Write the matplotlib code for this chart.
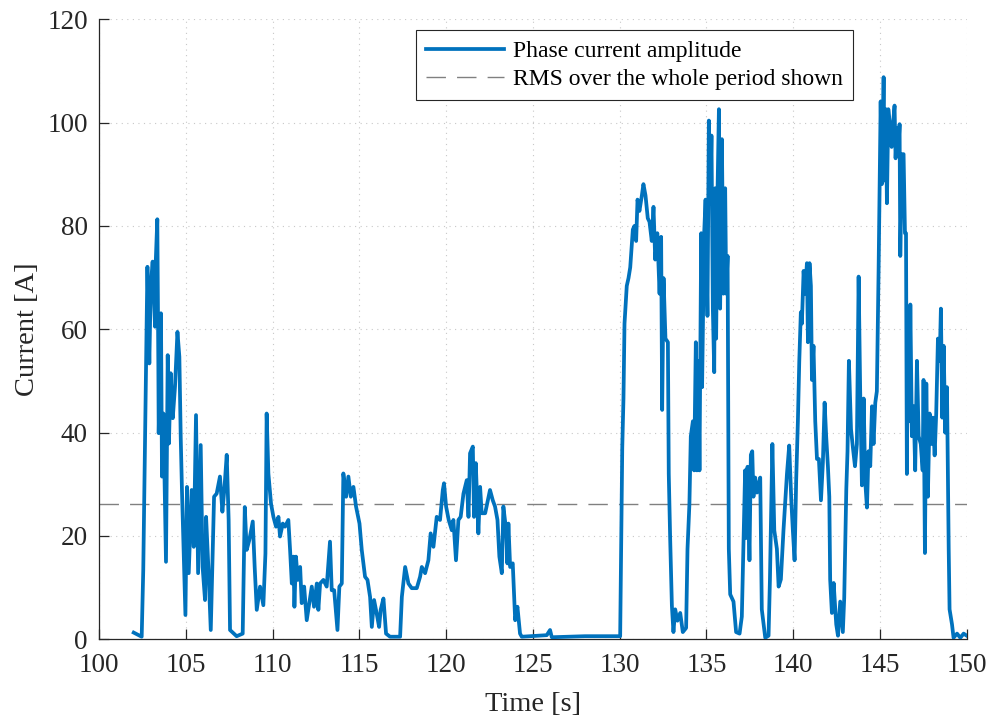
import matplotlib
matplotlib.use("Agg")
import matplotlib.pyplot as plt

# ---- data ----
time_s = [
    102.00, 102.46, 102.55, 102.65, 102.79, 102.90, 102.98, 103.09, 103.23, 103.27,
    103.36, 103.42, 103.44, 103.57, 103.63, 103.71, 103.86, 103.96, 104.03, 104.13,
    104.25, 104.38, 104.52, 104.63, 104.71, 104.78, 104.98, 105.07, 105.17, 105.34,
    105.46, 105.59, 105.71, 105.86, 105.97, 106.11, 106.17, 106.30, 106.44, 106.53,
    106.63, 106.78, 106.97, 107.11, 107.22, 107.36, 107.47, 107.55, 107.93, 108.28,
    108.40, 108.51, 108.66, 108.86, 108.97, 109.09, 109.28, 109.47, 109.59, 109.66,
    109.76, 109.91, 110.05, 110.20, 110.34, 110.43, 110.59, 110.72, 110.91, 111.01,
    111.11, 111.20, 111.26, 111.35, 111.45, 111.59, 111.68, 111.82, 111.97, 112.12,
    112.26, 112.39, 112.55, 112.64, 112.74, 112.93, 113.12, 113.22, 113.31, 113.41,
    113.55, 113.74, 113.85, 113.99, 114.08, 114.24, 114.37, 114.51, 114.66, 114.81,
    115.01, 115.14, 115.33, 115.47, 115.62, 115.72, 115.85, 116.00, 116.14, 116.23,
    116.39, 116.54, 116.77, 117.35, 117.45, 117.64, 117.83, 118.02, 118.31, 118.50,
    118.60, 118.79, 118.98, 119.11, 119.27, 119.46, 119.65, 119.81, 119.88, 120.00,
    120.15, 120.33, 120.42, 120.57, 120.71, 120.84, 121.00, 121.19, 121.29, 121.38,
    121.54, 121.61, 121.71, 121.86, 121.96, 122.05, 122.25, 122.53, 122.69, 122.82,
    122.96, 123.07, 123.21, 123.30, 123.46, 123.53, 123.59, 123.69, 123.84, 123.98,
    124.11, 124.26, 124.36, 125.80, 125.99, 126.09, 128.00, 130.03, 130.10, 130.15,
    130.22, 130.28, 130.41, 130.51, 130.61, 130.76, 130.85, 130.95, 131.03, 131.14,
    131.28, 131.37, 131.49, 131.62, 131.72, 131.85, 131.95, 132.05, 132.17, 132.30,
    132.39, 132.45, 132.53, 132.64, 132.78, 132.83, 132.91, 133.01, 133.10, 133.20,
    133.33, 133.49, 133.64, 133.83, 133.91, 134.02, 134.10, 134.22, 134.29, 134.39,
    134.45, 134.54, 134.60, 134.70, 134.75, 134.87, 134.95, 135.06, 135.14, 135.22,
    135.29, 135.37, 135.45, 135.50, 135.56, 135.64, 135.72, 135.79, 135.89, 135.98,
    136.08, 136.14, 136.22, 136.29, 136.37, 136.56, 136.71, 136.91, 137.04, 137.14,
    137.23, 137.29, 137.37, 137.48, 137.56, 137.64, 137.71, 137.81, 137.91, 138.10,
    138.19, 138.39, 138.58, 138.66, 138.80, 138.91, 139.06, 139.16, 139.29, 139.44,
    139.64, 139.77, 139.89, 139.98, 140.08, 140.17, 140.27, 140.35, 140.44, 140.50,
    140.60, 140.69, 140.79, 140.85, 140.94, 141.02, 141.08, 141.17, 141.27, 141.37,
    141.48, 141.60, 141.71, 141.81, 141.90, 142.00, 142.08, 142.13, 142.23, 142.33,
    142.48, 142.58, 142.71, 142.86, 142.94, 143.06, 143.13, 143.21, 143.33, 143.44,
    143.56, 143.67, 143.77, 143.86, 143.96, 144.06, 144.15, 144.25, 144.34, 144.44,
    144.54, 144.63, 144.73, 144.82, 144.92, 144.98, 145.04, 145.11, 145.21, 145.27,
    145.34, 145.40, 145.48, 145.59, 145.67, 145.75, 145.84, 145.90, 145.98, 146.05,
    146.13, 146.17, 146.27, 146.36, 146.44, 146.50, 146.55, 146.61, 146.69, 146.75,
    146.84, 146.94, 147.03, 147.13, 147.23, 147.35, 147.46, 147.51, 147.59, 147.67,
    147.76, 147.86, 147.96, 148.05, 148.15, 148.24, 148.34, 148.44, 148.51, 148.59,
    148.67, 148.76, 148.86, 148.96, 149.01, 149.15, 149.24, 149.44, 149.63, 149.82,
    150.00,
]
current_a = [
    1.3, 0.5, 13.4, 37.9, 72.1, 53.4, 68.2, 73.1, 60.5, 73.1,
    81.3, 52.8, 39.9, 63.1, 31.5, 43.7, 15.0, 55.0, 37.9, 51.5,
    42.8, 48.9, 59.5, 54.7, 38.9, 28.9, 4.7, 29.5, 12.8, 28.9,
    17.9, 43.4, 12.8, 37.6, 14.0, 7.6, 23.7, 14.0, 1.8, 14.0,
    27.6, 28.2, 31.5, 24.7, 28.9, 35.7, 23.1, 1.8, 0.6, 1.1,
    25.6, 17.3, 19.2, 22.8, 14.0, 5.7, 10.2, 6.6, 16.6, 43.7,
    32.1, 26.3, 23.7, 21.8, 23.7, 19.9, 22.4, 21.8, 23.1, 17.3,
    10.8, 16.0, 6.3, 16.0, 11.5, 14.0, 7.0, 10.2, 3.7, 7.0,
    10.2, 6.3, 10.8, 5.7, 10.8, 11.5, 10.2, 14.7, 18.9, 9.5,
    9.5, 1.8, 10.2, 10.8, 32.1, 27.6, 31.5, 27.6, 29.5, 25.7,
    22.4, 17.3, 12.1, 11.5, 8.2, 2.4, 7.6, 5.0, 2.4, 5.7,
    7.9, 1.1, 0.5, 0.5, 8.2, 14.0, 10.8, 9.9, 9.9, 12.1,
    14.0, 12.8, 15.3, 20.5, 17.9, 23.7, 23.1, 28.9, 30.2, 25.7,
    23.1, 21.1, 23.1, 15.3, 23.1, 23.7, 28.2, 30.8, 23.7, 36.0,
    37.3, 23.7, 34.1, 20.5, 29.5, 24.4, 24.4, 28.9, 26.9, 25.7,
    23.1, 16.0, 12.8, 25.7, 21.1, 14.7, 22.4, 14.0, 14.7, 3.7,
    6.3, 1.1, 0.5, 0.8, 1.8, 0.4, 0.6, 0.6, 23.0, 37.0,
    46.6, 61.1, 68.4, 69.9, 72.0, 79.3, 80.0, 77.1, 85.1, 82.9,
    85.9, 88.1, 85.9, 81.5, 80.8, 77.1, 83.7, 73.5, 78.6, 66.9,
    77.9, 44.4, 69.9, 58.2, 57.5, 32.0, 19.6, 6.5, 1.4, 5.8,
    3.6, 5.1, 1.4, 2.2, 17.5, 26.2, 39.3, 42.2, 32.7, 57.5,
    32.7, 53.9, 32.7, 78.6, 48.8, 78.6, 85.1, 62.6, 100.4, 84.4,
    97.5, 64.0, 51.7, 87.3, 58.2, 86.6, 102.6, 64.0, 96.8, 66.9,
    87.3, 66.9, 74.2, 17.5, 8.7, 7.3, 1.4, 1.1, 4.4, 18.9,
    32.7, 19.6, 33.4, 15.3, 35.7, 36.4, 27.6, 31.3, 28.4, 31.3,
    5.8, 0.3, 0.7, 11.6, 37.8, 21.1, 17.5, 10.2, 11.6, 21.1,
    32.0, 37.5, 26.9, 21.1, 15.3, 30.6, 42.2, 53.8, 63.3, 61.1,
    71.3, 66.9, 72.8, 57.5, 72.8, 68.4, 50.2, 56.8, 42.2, 34.9,
    34.9, 26.9, 34.2, 45.8, 39.3, 33.5, 27.6, 11.6, 5.1, 10.9,
    2.9, 0.7, 7.3, 1.4, 8.0, 29.1, 36.4, 53.9, 40.7, 37.1,
    33.5, 37.8, 70.2, 48.0, 29.8, 46.6, 30.6, 25.5, 36.4, 33.5,
    45.1, 37.8, 45.8, 48.0, 71.3, 88.1, 104.1, 88.1, 108.8, 88.8,
    102.6, 84.4, 102.6, 99.0, 95.3, 99.7, 103.3, 93.1, 99.0, 93.9,
    99.7, 74.2, 93.9, 93.9, 78.6, 78.6, 32.0, 61.1, 42.2, 64.8,
    39.3, 45.1, 32.7, 53.9, 39.3, 37.8, 32.7, 50.2, 16.7, 49.5,
    27.6, 43.7, 37.8, 42.9, 35.6, 43.7, 58.2, 53.9, 64.0, 42.9,
    56.8, 40.0, 48.8, 17.5, 5.8, 2.9, 0.3, 1.1, 0.3, 1.1,
    0.7,
]
rms_value = 26.2
x_ticks = [100, 105, 110, 115, 120, 125, 130, 135, 140, 145, 150]
y_ticks = [0, 20, 40, 60, 80, 100, 120]
series_labels = ["Phase current amplitude", "RMS over the whole period shown"]

plt.rcParams['font.family'] = ['Liberation Serif', 'DejaVu Serif']

fig = plt.figure(figsize=(9.89, 7.18), dpi=100)
ax = fig.add_axes([0.1001, 0.1096, 0.8774, 0.8635])

axcol = '#262626'
ax.plot(time_s, current_a, color='#0072BD', lw=2.7, solid_joinstyle='round',
        label=series_labels[0], zorder=3)
ax.axhline(rms_value, color='#808080', lw=1.0, dashes=(14, 8),
           label=series_labels[1], zorder=2)

ax.set_xlim(100, 150)
ax.set_ylim(0, 120)
ax.set_xticks(x_ticks)
ax.set_yticks(y_ticks)
ax.grid(True, linestyle=(0, (1, 4)), color='#c8c8c8', lw=0.8)
ax.set_axisbelow(True)

for s in ['top', 'right']:
    ax.spines[s].set_visible(False)
for s in ['left', 'bottom']:
    ax.spines[s].set_color(axcol)
    ax.spines[s].set_linewidth(0.9)

ax.tick_params(direction='in', length=7, width=0.9, colors=axcol,
               labelsize=19.5)
ax.tick_params(axis='x', pad=10)
ax.tick_params(axis='y', pad=8)
ax.set_xlabel('Time [s]', fontsize=20.5, color=axcol, labelpad=10)
ax.set_ylabel('Current [A]', fontsize=20.5, color=axcol, labelpad=5)

leg = ax.legend(loc='upper right', bbox_to_anchor=(0.869, 0.982),
                fontsize=17, frameon=True, fancybox=False, framealpha=1,
                edgecolor='#262626', handlelength=3.3, handletextpad=0.4,
                labelspacing=0.28, borderpad=0.42, borderaxespad=0)
leg.get_frame().set_linewidth(0.8)

fig.savefig('out.png', dpi=100)
